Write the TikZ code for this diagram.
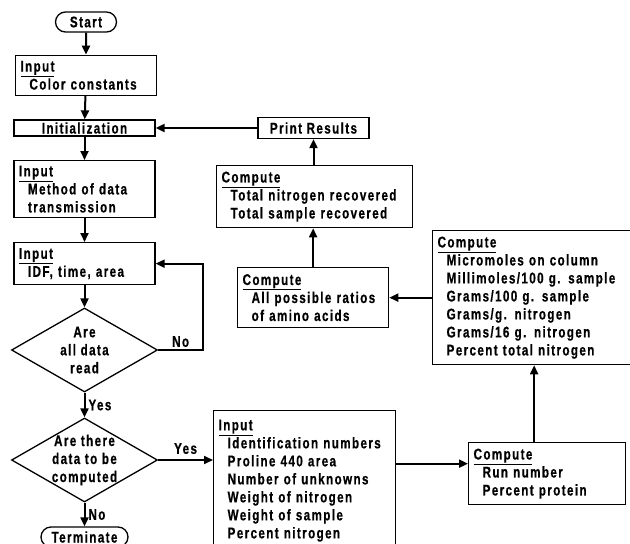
\documentclass[tikz,border=0pt]{standalone}
\usepackage{fontspec}
\setmainfont{Liberation Sans}[FakeStretch=0.75, LetterSpace=9, FakeBold=0.6]
\usetikzlibrary{arrows.meta,positioning,shapes.geometric,shapes.misc}

\newcommand{\hd}[1]{\underline{#1}}
\newcommand{\ind}{\hspace*{9pt}}

\begin{document}
\begin{tikzpicture}[
    x=1pt, y=-1pt,
    process/.style={rectangle, draw=black, line width=1.3pt, text width=#1, align=left, inner xsep=5pt, inner ysep=3pt},
    single/.style={rectangle, draw=black, line width=1.3pt, minimum width=#1, inner sep=0.5pt, minimum height=16pt},
    terminal/.style={rounded rectangle, draw=black, line width=1.3pt, minimum width=#1, minimum height=20pt, inner sep=0.5pt},
    decision/.style={diamond, draw=black, line width=1.3pt, aspect=1.7, inner sep=-4pt, minimum width=146pt, minimum height=84pt, align=center},
    arrow/.style={line width=2pt, -{Triangle[length=9pt,width=8pt]}},
    every node/.style={font=\bfseries\fontsize{15.5}{18}\selectfont}
]
\useasboundingbox (0,0) rectangle (630,544);

% Left column
\node[terminal=62pt] (start) at (86,22) {Start};
\node[process=131pt, minimum height=40pt, below=22pt of start] (colorc) {\hd{Input}\\\ind Color constants};
\node[single=141pt] (init) at (84.5,128) {Initialization};
\node[process=131pt, minimum height=57pt, anchor=north] (method) at (84.5,160) {\hd{Input}\\\ind Method of data\\\ind transmission};
\node[process=131pt, minimum height=42pt, anchor=north] (idf) at (84.5,242) {\hd{Input}\\\ind IDF, time, area};
\node[decision] (alldata) at (84.5,350) {Are\\all data\\read};
\node[decision] (compdata) at (84.5,460) {Are there\\data to be\\computed};
\node[terminal=88pt] (terminate) at (84.5,537) {Terminate};

% Right part
\node[single=111pt, minimum height=21pt] (print) at (313.5,128) {Print Results};
\node[process=186pt, minimum height=62pt, anchor=north west] (total) at (216,165) {\hd{Compute}\\\ind Total nitrogen recovered\\\ind Total sample recovered};
\node[process=141pt, minimum height=60pt, anchor=north west] (ratios) at (237,267) {\hd{Compute}\\\ind All possible ratios\\\ind of amino acids};
\node[process=190pt, minimum height=134pt, anchor=north west] (conv) at (432,230) {\hd{Compute}\\\ind Micromoles on column\\\ind Millimoles/100 g. sample\\\ind Grams/100 g. sample\\\ind Grams/g. nitrogen\\\ind Grams/16 g. nitrogen\\\ind Percent total nitrogen};
\node[process=172pt, minimum height=140pt, anchor=north west] (data) at (213,410) {\hd{Input}\\\ind Identification numbers\\\ind Proline 440 area\\\ind Number of unknowns\\\ind Weight of nitrogen\\\ind Weight of sample\\\ind Percent nitrogen};
\node[process=147pt, minimum height=62pt, anchor=north west] (run) at (468,442) {\hd{Compute}\\\ind Run number\\\ind Percent protein};

% Arrows
\draw[arrow] (start) -- (colorc);
\draw[arrow] (colorc) -- (init);
\draw[arrow] (init) -- (method);
\draw[arrow] (method) -- (idf);
\draw[arrow] (idf) -- (alldata);
\draw[arrow] (alldata) -- node[right, inner sep=3pt] {Yes} (compdata);
\draw[arrow] (compdata) -- node[right, inner sep=3pt] {No} (terminate);
\draw[arrow] (alldata.east) -- node[above, inner sep=2pt] {No} ++(45,0) |- (idf.east);
\draw[arrow] (compdata.east) -- node[above, inner sep=5pt] {Yes} (compdata.east -| data.west);
\draw[arrow] ([yshift=10pt]run.west -| data.east) -- ([yshift=10pt]run.west);
\draw[arrow] ([xshift=-13pt]run.north) -- ([xshift=-13pt]run.north |- conv.south);
\draw[arrow] (conv.west |- ratios) -- (ratios.east);
\draw[arrow] (ratios.north) -- (ratios.north |- total.south);
\draw[arrow] (total.north -| print) -- (print.south);
\draw[arrow] (print.west) -- (print.west -| init.east);

\end{tikzpicture}
\end{document}
